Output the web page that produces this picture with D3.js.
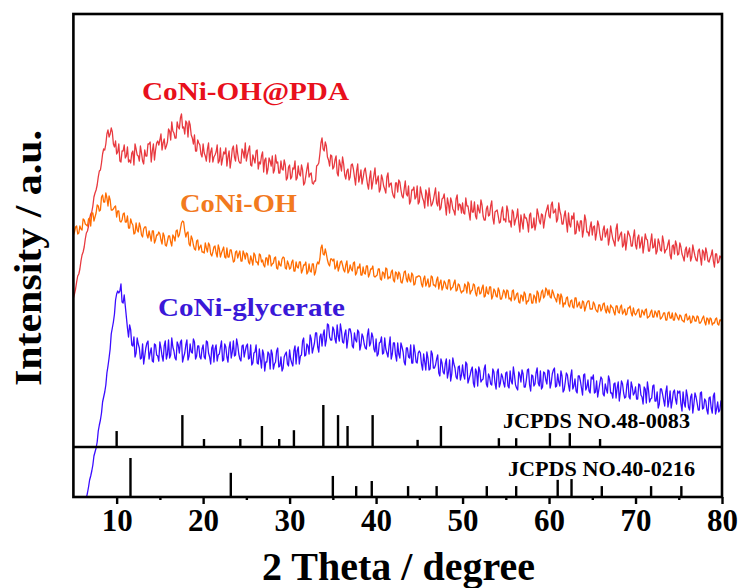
<!DOCTYPE html>
<head>
<meta charset="utf-8">
<style>
    body {
        margin: 0;
        background: #fff;
    }
    svg {
        display: block;
        font-family: "Liberation Serif", "Times New Roman", serif;
        font-weight: bold;
    }
    .scan {
        fill: none;
        stroke-width: 1.3;
        stroke-linejoin: round;
    }
    .stick {
        stroke: #000;
        stroke-width: 2.4;
    }
    .tick line {
        stroke: #000;
        stroke-width: 2.4;
    }
</style>
</head>
<body>
<script src="https://cdn.jsdelivr.net/npm/d3@7/dist/d3.min.js"></script>
<script>
// scans: "Scan" arrays hold 5.00, 5.25, ... 80.00 and "Mid" arrays the
// readings in between (5.125, 5.375, ... 79.875)
var thetaStart = 5, thetaStep = 0.125;

// CoNi-OH@PDA
var pdaScan = [
    202,211,224,231,245,253,267,274,286,294,307,315,329,337,351,356,370,366,368,353,
    346,356,338,349,342,353,340,347,335,351,344,354,339,350,344,356,338,356,350,359,
    360,350,361,354,371,360,369,362,378,371,386,373,379,363,375,362,365,349,357,346,
    356,344,351,338,352,343,348,337,352,341,346,334,349,340,354,339,346,337,351,342,
    339,350,335,345,337,350,338,344,328,342,331,339,344,330,337,327,339,330,335,322,
    335,323,331,320,334,324,330,317,331,323,327,316,319,335,346,362,349,354,340,345,
    331,340,327,340,329,336,321,331,323,336,323,329,318,330,322,332,316,322,311,325,
    316,324,311,321,311,323,313,317,304,317,308,318,304,311,306,314,299,310,301,314,
    298,307,299,310,294,303,296,306,297,308,292,302,295,302,287,298,289,301,290,295,
    297,286,294,287,299,288,284,295,287,295,280,291,284,294,282,288,290,277,288,280,
    278,289,279,290,275,283,277,285,271,282,277,285,272,282,276,286,276,285,280,291,
    284,295,287,291,281,289,276,284,278,287,273,281,266,279,269,279,270,280,268,273,
    265,274,267,275,260,270,263,271,262,267,258,271,259,266,253,266,259,266,254,263,
    255,262,252,263,255,261,249,258,252,261,249,257,249,258,250,256,245,254,246,255,
    246,253,243,250,243,252,243,249,240,249,243,250,240,247,238,245,239,246,237,244,238
];
var pdaMid = [
    206,218,226,239,248,261,269,281,288,303,310,323,330,346,350,366,363,372,356,359,
    348,339,349,355,344,338,337,349,356,345,339,347,336,344,356,358,349,340,357,355,
    366,357,351,358,369,378,367,362,373,382,372,366,377,379,365,356,349,360,355,343,
    347,339,357,348,338,345,355,339,335,348,352,343,332,351,343,355,339,337,348,357,
    345,354,334,341,349,331,336,348,340,326,342,334,327,345,338,327,331,340,320,333,
    321,332,339,322,326,335,315,324,337,326,317,319,334,337,357,351,358,343,334,344,
    333,344,324,335,343,325,329,320,335,331,315,336,323,316,329,324,311,329,318,332,
    320,308,325,314,307,327,316,308,302,317,320,310,302,319,304,296,310,313,303,296,
    313,302,292,306,312,294,300,312,294,290,301,306,285,296,302,291,285,305,296,287,
    287,302,294,280,288,298,281,290,300,284,280,294,285,299,276,289,284,278,293,281,
    294,278,273,288,280,291,268,278,286,282,268,287,273,270,291,279,286,272,287,295,
    282,298,288,278,297,285,276,289,268,276,284,287,267,275,279,263,285,268,264,278,
    273,260,279,266,260,274,267,255,274,261,254,276,262,268,255,250,269,263,254,270,
    251,265,257,247,266,260,249,266,253,246,261,250,264,247,251,260,241,255,259,245,
    257,246,239,253,248,239,255,244,239,251,235,248,252,239,242,250,233,246,238,243
];

// CoNi-OH
var ohScan = [
    265,273,266,274,270,280,275,281,274,287,283,295,289,303,298,307,294,300,290,293,
    283,289,278,286,278,284,272,277,266,277,268,273,263,273,265,269,259,269,260,265,
    266,256,264,254,264,258,265,259,270,265,277,278,263,268,254,261,251,259,250,255,
    248,257,248,255,244,253,247,255,243,250,243,252,243,250,238,248,242,249,239,246,
    247,238,244,235,245,238,246,238,235,242,235,244,236,242,232,239,234,243,232,239,
    231,238,229,238,232,238,230,235,226,236,228,236,228,238,241,255,245,246,236,241,
    239,231,239,233,239,230,235,227,235,229,238,227,232,225,233,226,234,226,231,224,
    224,231,221,228,222,231,223,228,220,228,221,226,217,228,221,226,218,225,216,223,
    224,216,221,214,221,214,223,215,220,211,220,213,217,211,220,212,217,209,216,210,
    209,216,207,216,209,216,207,212,206,212,203,213,206,213,204,209,203,209,201,210,
    202,209,202,209,200,206,198,205,199,206,199,206,197,205,197,207,201,210,204,210,
    210,202,207,201,206,196,203,197,202,195,199,193,202,193,198,192,198,193,199,191,
    191,196,189,195,189,196,190,194,187,193,188,194,188,193,186,191,186,192,187,192,
    185,190,183,190,185,191,183,188,183,189,183,189,182,187,180,187,182,187,180,185,
    180,184,179,185,180,184,178,183,179,183,177,182,178,182,176,181,177,181,176,180,177
];
var ohMid = [
    268,274,267,271,281,276,274,282,287,279,287,294,290,305,298,302,304,290,291,294,
    289,279,280,287,278,272,281,275,267,270,277,265,271,273,262,264,269,257,265,268,
    260,267,255,259,264,254,263,269,263,271,279,269,267,256,264,255,250,260,253,248,
    247,252,257,246,248,254,243,251,247,253,242,243,250,244,239,249,246,239,249,241,
    246,236,240,247,238,235,245,240,233,242,245,234,237,243,231,235,241,242,231,236,
    232,240,229,233,238,227,235,238,228,229,236,225,235,236,252,246,251,240,234,241,
    241,233,229,238,235,228,239,229,231,237,225,233,236,225,227,234,223,231,234,223,
    225,231,220,227,232,221,222,230,218,227,228,218,222,229,218,220,227,215,223,224,
    223,213,224,217,213,224,215,213,223,217,210,219,212,220,210,213,220,210,215,207,
    209,214,218,206,210,215,204,213,207,215,204,207,213,201,211,204,212,201,205,208,
    210,201,199,210,202,207,197,204,208,196,199,206,197,203,209,198,208,202,212,205,
    203,210,203,198,205,206,193,196,203,193,200,192,202,195,192,199,189,197,199,191,
    198,191,188,195,191,197,187,189,195,192,185,194,187,195,188,185,192,194,184,187,
    187,191,183,188,190,182,184,190,183,187,189,181,184,187,180,188,182,180,187,182,
    185,180,178,186,181,177,184,179,184,177,179,184,175,181,182,175,177,182,175,180
];

// CoNi-glycerate (no signal in the window below 6.5)
var glyScan = [
    null,null,null,null,null,null,2,13,24,35,48,58,75,87,103,115,134,151,172,186,
    206,207,216,197,194,172,175,155,163,147,156,141,156,144,157,141,152,138,155,144,
    158,144,154,141,160,145,153,142,158,147,160,143,155,140,156,147,158,144,154,141,
    155,141,158,143,152,138,155,145,153,139,156,143,152,142,159,145,155,141,154,143,
    154,141,155,137,148,137,151,132,146,138,148,131,146,136,149,133,143,132,146,136,
    150,137,149,136,153,144,159,144,156,146,161,152,167,153,163,154,170,160,175,160,
    173,161,175,159,169,157,170,161,171,154,167,158,168,155,163,152,165,154,167,151,
    161,146,158,146,162,147,154,141,157,145,157,142,153,138,152,143,155,137,148,137,
    149,136,146,130,142,131,146,132,141,127,141,128,136,122,140,126,136,123,133,120,
    135,121,136,121,130,117,131,114,129,120,131,116,126,116,131,117,128,113,126,117,
    127,114,129,116,125,112,128,118,126,113,130,115,125,114,127,117,129,113,127,116,
    129,117,130,113,126,114,124,110,127,115,124,111,121,107,124,112,125,110,120,107,
    121,107,119,110,123,106,116,107,120,107,116,102,118,108,116,102,115,103,118,105,
    113,101,115,103,113,97,110,101,114,99,108,96,111,100,108,93,109,99,110,96,
    107,96,108,93,104,90,106,96,103,90,107,91,101,90,102,92,104,86,98,90,96
];
var glyMid = [
    null,null,null,null,null,null,7,20,29,44,52,69,80,98,108,127,142,166,178,200,
    209,209,198,205,183,163,170,154,143,162,152,142,136,152,159,147,139,156,145,139,
    152,139,159,146,142,162,149,140,155,158,138,147,160,144,148,161,141,154,143,151,
    143,159,147,136,155,151,139,146,159,140,153,138,158,148,144,161,146,139,155,149,
    156,142,135,147,155,136,141,150,129,138,146,150,131,138,152,134,129,143,148,134,
    141,134,154,149,136,145,162,145,154,165,147,157,167,148,166,165,154,176,163,160,
    170,157,164,176,158,166,152,171,166,152,160,170,150,166,156,151,171,157,163,148,
    144,157,163,147,151,143,163,146,157,139,146,157,148,135,152,142,137,155,138,147,
    147,130,138,148,130,149,132,135,145,124,137,126,141,128,119,142,132,121,134,125,
    125,138,117,125,133,113,128,133,118,121,135,113,123,115,128,111,131,117,123,113,
    128,112,119,133,115,110,125,130,113,120,131,109,124,116,132,114,111,128,120,130,
    112,126,132,114,118,129,108,118,125,109,130,114,109,124,119,105,126,113,109,123,
    125,108,103,117,121,104,111,124,107,102,117,112,99,119,107,103,120,101,113,107,
    101,116,105,96,111,118,98,102,115,99,92,111,106,94,114,99,92,108,101,109,
    109,89,97,110,93,103,87,107,97,90,108,92,99,86,103,87,107,91,88,99
];

// reference patterns: 2 theta and relative intensity
var ref48Pos = [10.0, 17.6, 20.1, 24.3, 26.8, 28.8, 30.5, 33.9, 35.6, 36.7, 39.6, 44.8, 47.5, 54.2, 56.2, 60.1, 62.4, 65.9];
var ref48Int = [38, 76, 19, 19, 50, 19, 40, 100, 76, 50, 76, 17, 50, 21, 21, 33, 33, 19];
var ref40Pos = [11.6, 23.2, 35.0, 37.7, 39.5, 43.7, 47.0, 52.8, 56.2, 61.0, 62.6, 66.1, 71.8, 75.3];
var ref40Int = [100, 62, 54, 28, 41, 28, 28, 28, 28, 44, 46, 28, 28, 28];

var majorTicks = [10, 20, 30, 40, 50, 60, 70, 80];
var minorTicks = [15, 25, 35, 45, 55, 65, 75];

// put the in-between readings back in order
function interleave(a, b) {
    var out = [];
    a.forEach(function(v, i) {
        out.push(v);
        if (i < b.length) out.push(b[i]);
    });
    return out;
}

var scans = [
    {name: "CoNi-OH@PDA", values: interleave(pdaScan, pdaMid), line: "#e8393f", text: "#e8101c", lx: 142, ly: 100, len: 207},
    {name: "CoNi-OH", values: interleave(ohScan, ohMid), line: "#ff6c00", text: "#f27a1e", lx: 180, ly: 212, len: 117},
    {name: "CoNi-glycerate", values: interleave(glyScan, glyMid), line: "#3a0cff", text: "#3a18d8", lx: 158, ly: 316, len: 187}
];

var width = 747, height = 588;
// plot box ("top" is taken by window.top, so use other names)
var plotLeft = 73.4, plotRight = 722, plotTop = 14, plotBottom = 497, plotSplit = 447;

var svg = d3.select("body").append("svg")
    .attr("width", width)
    .attr("height", height);

svg.append("rect")
    .attr("width", width)
    .attr("height", height)
    .attr("fill", "#fff");

var x = d3.scaleLinear().domain([5, 80]).range([plotLeft, plotRight]);
var y = d3.scaleLinear().domain([3, 486]).range([plotBottom, plotTop]);
var h48 = d3.scaleLinear().domain([0, 100]).range([plotSplit, plotSplit - 42]);
var h40 = d3.scaleLinear().domain([0, 100]).range([plotBottom, plotBottom - 39]);

svg.append("clipPath")
    .attr("id", "plot-clip")
  .append("rect")
    .attr("x", plotLeft)
    .attr("y", plotTop)
    .attr("width", plotRight - plotLeft)
    .attr("height", plotBottom - plotTop);

var line = d3.line()
    .defined(function(d) { return d !== null; })
    .x(function(d, i) { return x(thetaStart + i * thetaStep); })
    .y(function(d) { return y(d); });

var plot = svg.append("g").attr("clip-path", "url(#plot-clip)");

plot.selectAll("path.scan")
    .data(scans)
    .enter().append("path")
    .attr("class", "scan")
    .attr("stroke", function(d) { return d.line; })
    .attr("d", function(d) { return line(d.values); });

svg.selectAll("text.scan-label")
    .data(scans)
    .enter().append("text")
    .attr("class", "scan-label")
    .attr("x", function(d) { return d.lx; })
    .attr("y", function(d) { return d.ly; })
    .attr("font-size", 26)
    .attr("textLength", function(d) { return d.len; })
    .attr("lengthAdjust", "spacingAndGlyphs")
    .attr("fill", function(d) { return d.text; })
    .text(function(d) { return d.name; });

// stick patterns
function sticks(pos, ints, scale) {
    svg.append("g").selectAll("line")
        .data(pos)
        .enter().append("line")
        .attr("class", "stick")
        .attr("x1", function(d) { return x(d); })
        .attr("x2", function(d) { return x(d); })
        .attr("y1", scale(0))
        .attr("y2", function(d, i) { return scale(ints[i]); });
}
sticks(ref48Pos, ref48Int, h48);
sticks(ref40Pos, ref40Int, h40);

svg.append("text")
    .attr("x", 503)
    .attr("y", 428)
    .attr("font-size", 20)
    .attr("textLength", 187)
    .attr("lengthAdjust", "spacingAndGlyphs")
    .text("JCPDS NO.48-0083");

svg.append("text")
    .attr("x", 508)
    .attr("y", 476)
    .attr("font-size", 20)
    .attr("textLength", 187)
    .attr("lengthAdjust", "spacingAndGlyphs")
    .text("JCPDS NO.40-0216");

// x axis
var axis = svg.append("g")
    .attr("transform", "translate(0," + plotBottom + ")")
    .call(d3.axisBottom(x).tickValues(majorTicks).tickSize(7).tickSizeOuter(0).tickFormat(d3.format("d")));
axis.select(".domain").remove();
axis.selectAll("text")
    .attr("y", 34)
    .attr("dy", null)
    .attr("fill", "#000")
    .attr("font-size", 31)
    .attr("font-family", "Liberation Serif, serif")
    .attr("font-weight", "bold");

var minor = svg.append("g")
    .attr("transform", "translate(0," + plotBottom + ")")
    .call(d3.axisBottom(x).tickValues(minorTicks).tickSize(3).tickSizeOuter(0).tickFormat(""));
minor.select(".domain").remove();

// frame and divider
svg.append("rect")
    .attr("x", plotLeft)
    .attr("y", plotTop)
    .attr("width", plotRight - plotLeft)
    .attr("height", plotBottom - plotTop)
    .attr("fill", "none")
    .attr("stroke", "#000")
    .attr("stroke-width", 2.6);

svg.append("line")
    .attr("x1", plotLeft)
    .attr("x2", plotRight)
    .attr("y1", plotSplit)
    .attr("y2", plotSplit)
    .attr("stroke", "#000")
    .attr("stroke-width", 2.4);

// axis titles
svg.append("text")
    .attr("x", 398.5)
    .attr("y", 580)
    .attr("text-anchor", "middle")
    .attr("font-size", 40)
    .attr("textLength", 273)
    .attr("lengthAdjust", "spacingAndGlyphs")
    .text("2 Theta / degree");

svg.append("text")
    .attr("transform", "translate(41,258) rotate(-90)")
    .attr("text-anchor", "middle")
    .attr("font-size", 38)
    .attr("textLength", 256)
    .attr("lengthAdjust", "spacingAndGlyphs")
    .text("Intensity / a.u.");
</script>
</body>
